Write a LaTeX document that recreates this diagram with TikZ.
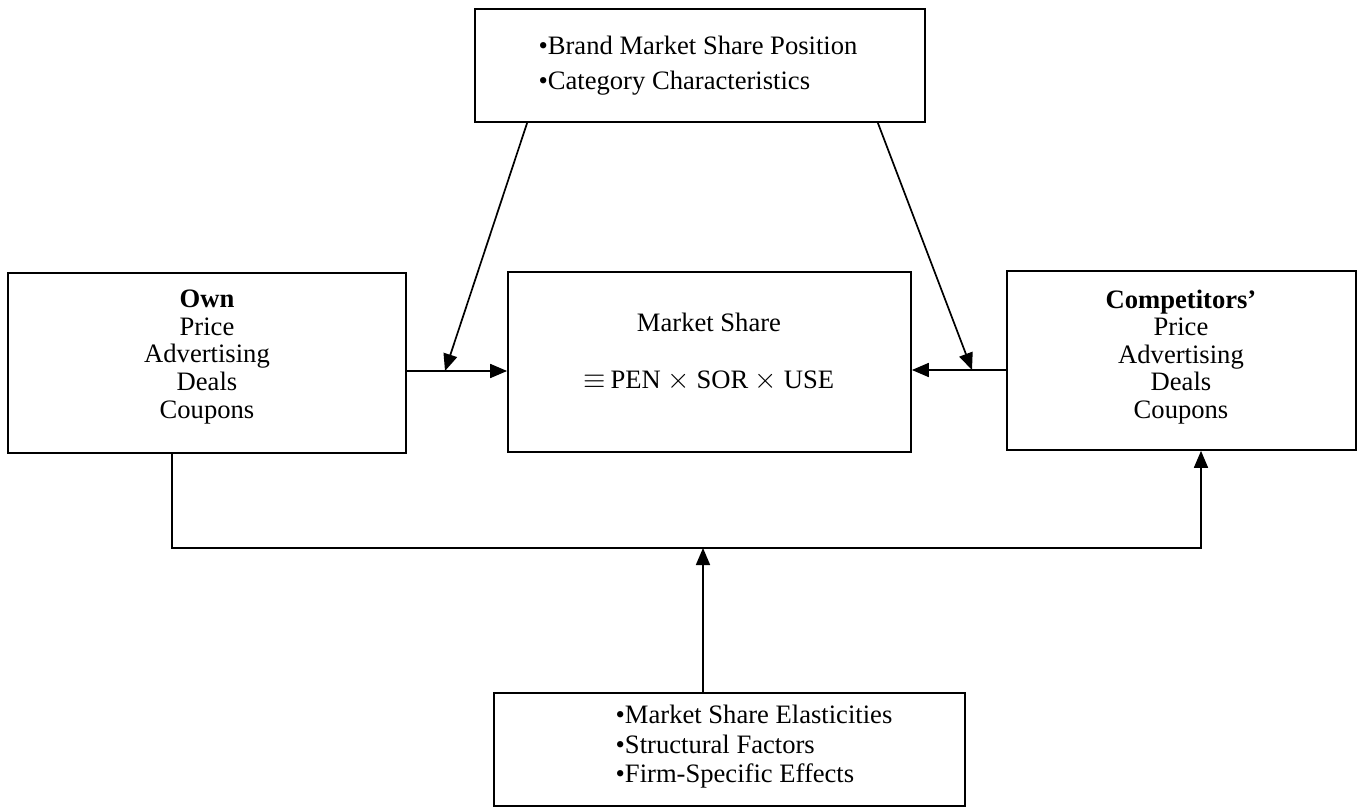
\documentclass[tikz,border=0pt]{standalone}
\usepackage{fontspec}
\setmainfont{Liberation Serif}
\usetikzlibrary{arrows.meta}
\begin{document}
\begin{tikzpicture}[x=0.5pt,y=-0.5pt,
  box/.style={draw, line width=0.85pt, rectangle, inner sep=0pt},
  txt/.style={font=\fontsize{13.3}{13.8}\selectfont, inner sep=0pt},
  arr/.style={line width=0.85pt, -{Triangle[length=8.5pt,width=7pt]}},
  ln/.style={line width=0.85pt}]
\useasboundingbox (0,0) rectangle (1357,808);
% boxes
\node[box, minimum width=225pt, minimum height=56.5pt] (top) at (700,65.5) {};
\node[box, minimum width=199pt, minimum height=90pt] (own) at (207,363) {};
\node[box, minimum width=201.5pt, minimum height=90pt] (ms) at (709.5,362) {};
\node[box, minimum width=174.5pt, minimum height=89.5pt] (comp) at (1181.5,360.5) {};
\node[box, minimum width=235.5pt, minimum height=56.5pt] (bot) at (729.5,749.5) {};
% texts
\node[txt, align=left] (toptxt) at (698,66) {•Brand Market Share Position\\[3.7pt]•Category Characteristics};
\node[txt, align=center] (owntxt) at (207,357) {\textbf{Own}\\Price\\Advertising\\Deals\\Coupons};
\node[txt, align=center] (comptxt) at (1181,357) {\textbf{Competitors’}\\Price\\Advertising\\Deals\\Coupons};
\node[txt] (mstxt1) at (709,322) {Market Share};
\node[txt] (mstxt2) at (709,381) {$\equiv$\,PEN $\times$ SOR $\times$ USE};
\node[txt, align=left] (bottxt) at (754,747) {•Market Share Elasticities\\[0.9pt]•Structural Factors\\[0.9pt]•Firm-Specific Effects};
% connectors
\coordinate (la) at (445,371);
\coordinate (ra) at (972,370);
\coordinate (j) at (703,548);
\draw[arr] ([yshift=-4pt]own.east) -- ([yshift=-4pt]own.east -| ms.west);
\draw[arr] ([yshift=-4.75pt]comp.east -| comp.west) -- ([yshift=-4.75pt]comp.east -| ms.east);
\draw[arr] ([xshift=26.5pt]top.south west) -- (la);
\draw[arr] ([xshift=-24pt]top.south east) -- (ra);
\draw[arr] ([xshift=-17.5pt]own.south) |- (j) -| ([xshift=9.75pt]comp.south);
\draw[arr] (bot.north -| j) -- (j);
\end{tikzpicture}
\end{document}
